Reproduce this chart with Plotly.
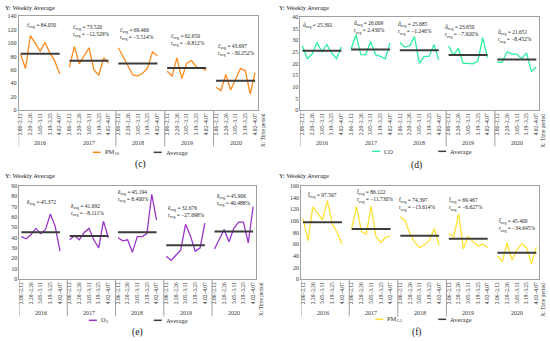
import plotly.graph_objects as go

# ---------------- data ----------------
years = ["2016", "2017", "2018", "2019", "2020"]
week_labels = ["2.06–2.12", "2.20–2.26", "3.05–3.11", "3.19–3.25", "4.02–4.07"]
weeks_per_year = 9

pm10 = [
    [83, 62, 111, 100, 88, 101, 85, 73, 54],
    [64, 95, 69, 81, 93, 60, 52, 78, 70],
    [93, 80, 65, 52, 51, 55, 63, 87, 81],
    [58, 51, 78, 47, 70, 74, 64, 63, 59],
    [34, 29, 53, 30, 46, 62, 59, 24, 56],
]
pm10_avg = [84.050, 73.520, 69.466, 62.650, 43.697]
pm10_rate = [None, -12.529, -5.514, -9.812, -30.252]

co = [
    [27.5, 22, 24, 29, 25, 28, 24.5, 22, 27],
    [26.2, 32.3, 23.8, 23.8, 29.4, 23.8, 23, 22, 28.8],
    [29, 27, 27.5, 31.5, 20, 23, 23, 28, 21.5],
    [27.5, 23.5, 26.5, 20, 20, 19.8, 21, 31, 22.5],
    [20.5, 20.5, 25, 24, 24, 22, 24.5, 16.5, 18.5],
]
co_avg = [25.392, 26.009, 25.685, 23.650, 21.651]
co_rate = [None, 2.430, -1.246, -7.920, -8.452]

o3 = [
    [41, 39, 43, 49, 44, 48, 63, 51, 27],
    [38, 42, 38, 45, 49, 38, 30, 56, 40],
    [40, 37, 38, 26, 41, 41, 44, 82, 57],
    [22, 18, 23, 28, 53, 42, 27, 30, 54],
    [29, 38, 48, 36, 49, 55, 55, 35, 70],
]
o3_avg = [45.372, 41.692, 45.194, 32.676, 45.906]
o3_rate = [None, -8.111, 8.400, -27.698, 40.488]

pm25 = [
    [104, 66, 124, 113, 102, 135, 95, 80, 60],
    [87, 125, 82, 77, 125, 73, 63, 72, 74],
    [107, 100, 78, 63, 54, 59, 66, 87, 58],
    [78, 73, 112, 52, 73, 64, 57, 60, 54],
    [40, 30, 62, 33, 50, 61, 54, 26, 55],
]
pm25_avg = [97.567, 86.122, 74.397, 69.467, 45.400]
pm25_rate = [None, -11.730, -13.614, -6.627, -34.645]

# ---------------- styling ----------------
FONT = "Liberation Serif, Times New Roman, serif"
W, H = 550, 341
AVG_COLOR = "#3c3c3c"
BORDER = "#a0a0a0"


def py(px):
    return 1 - px / H


def pxx(px):
    return px / W


panels = [
    dict(key="c", name="PM<sub>10</sub>", vals=pm10, avg=pm10_avg, rate=pm10_rate,
         color="#FF8A1E", sym="c̄", yr=[0, 140], dt=20,
         xdom=[17.7, 257], ydom=[109, 13.5],
         ann_x=[4.2, 14.5, 23.9, 34.2, 44.0], ann_y=[126.7, 118.6, 113.4, 105, 89],
         seps=[19.5, 29.5, 39.5], ylab=(2, 5), xlab=(262, 130),
         leg=(92, 153, 152), tag=(140, 164), yearY=143, sepEnd=146),
    dict(key="d", name="CO", vals=co, avg=co_avg, rate=co_rate,
         color="#2EF0A0", sym="d̄", yr=[0, 40], dt=5,
         xdom=[300, 538.7], ydom=[109, 14],
         ann_x=[3.2, 13.7, 23.1, 32.8, 43.7], ann_y=[36.2, 35.2, 35.0, 33.7, 31.6],
         seps=[29.5, 39.5], ylab=(277, 5), xlab=(543, 130),
         leg=(372, 438, 151), tag=(416.7, 165), yearY=143, sepEnd=146),
    dict(key="e", name="O<sub>3</sub>", vals=o3, avg=o3_avg, rate=o3_rate,
         color="#9A35C8", sym="ē", yr=[0, 90], dt=10,
         xdom=[18.5, 255], ydom=[281, 186.3],
         ann_x=[4.15, 13.6, 23.3, 34.0, 44.0], ann_y=[73.7, 66.6, 80.3, 64.7, 76],
         seps=[9.5, 19.5, 29.5, 39.5], ylab=(2, 176), xlab=(260, 302),
         leg=(88, 153, 323), tag=(136.7, 335), yearY=316, sepEnd=319),
    dict(key="f", name="PM<sub>2.5</sub>", vals=pm25, avg=pm25_avg, rate=pm25_rate,
         color="#FFE234", sym="f̄", yr=[0, 160], dt=20,
         xdom=[300.7, 538.7], ydom=[281, 186.3],
         ann_x=[3.9, 14.7, 23.5, 33.6, 44.1], ann_y=[143, 141.4, 128, 128.7, 92.4],
         seps=[9.5, 19.5, 29.5], ylab=(277, 176), xlab=(543, 302),
         leg=(375, 438, 322), tag=(416.7, 335), yearY=316, sepEnd=319),
]

fig = go.Figure()
annotations = []
shapes = []
layout_axes = {}

tickvals = []
ticktext = []
for yi in range(len(years)):
    for k, lab in enumerate(week_labels):
        tickvals.append(yi * 10 + 2 * k)
        ticktext.append(lab)

for i, p in enumerate(panels):
    n = "" if i == 0 else str(i + 1)
    xa, ya = "x" + n, "y" + n

    xs, ys, ax, ay = [], [], [], []
    for yi, series in enumerate(p["vals"]):
        for w, v in enumerate(series):
            xs.append(yi * 10 + w)
            ys.append(v)
        xs.append(None)
        ys.append(None)
        ax += [yi * 10, yi * 10 + weeks_per_year - 1, None]
        ay += [p["avg"][yi], p["avg"][yi], None]

    fig.add_trace(go.Scatter(x=xs, y=ys, mode="lines", name=p["name"],
                             line=dict(color=p["color"], width=1.3),
                             xaxis=xa, yaxis=ya, showlegend=False))
    fig.add_trace(go.Scatter(x=ax, y=ay, mode="lines", name="Average",
                             line=dict(color=AVG_COLOR, width=2),
                             xaxis=xa, yaxis=ya, showlegend=False))

    layout_axes["xaxis" + n] = dict(
        domain=[pxx(p["xdom"][0]), pxx(p["xdom"][1])], anchor=ya,
        range=[-0.4, 48.5], tickmode="array", tickvals=tickvals, ticktext=ticktext,
        tickangle=-90, tickfont=dict(family=FONT, size=5.5, color="#333"),
        showgrid=False, zeroline=False, showline=True, linecolor=BORDER,
        linewidth=1, mirror=True, ticks="", ticklen=0)
    layout_axes["yaxis" + n] = dict(
        domain=[py(p["ydom"][0]), py(p["ydom"][1])], anchor=xa,
        range=p["yr"], dtick=p["dt"], tick0=0,
        tickfont=dict(family=FONT, size=6, color="#333"),
        showgrid=False, zeroline=False, showline=True, linecolor=BORDER,
        linewidth=1, mirror=True, ticks="")

    # statistics annotations
    for yi in range(len(years)):
        txt = f"{p['sym']}<sub>avg</sub> = {p['avg'][yi]:.3f}"
        if p["rate"][yi] is not None:
            r = p["rate"][yi]
            rs = f"{r:.3f}%".replace("-", "−")
            txt += f"<br>r<sub>avg</sub> = {rs}"
        annotations.append(dict(x=p["ann_x"][yi], y=p["ann_y"][yi], xref=xa, yref=ya,
                                text=txt, showarrow=False, align="left",
                                xanchor="center", yanchor="middle",
                                font=dict(family=FONT, size=5.5, color="#222")))
        # year labels
        annotations.append(dict(x=yi * 10 + 4, y=py(p["yearY"]), xref=xa, yref="paper",
                                text=years[yi], showarrow=False, yanchor="middle",
                                font=dict(family=FONT, size=6, color="#333")))

    # year separators
    y_bottom = py(p["ydom"][0])
    for s in [-0.4] + p["seps"]:
        shapes.append(dict(type="line", xref=xa, yref="paper", x0=s, x1=s,
                           y0=y_bottom, y1=py(p["sepEnd"]),
                           line=dict(color=BORDER, width=1)))

    annotations.append(dict(x=pxx(p["ylab"][0]), y=py(p["ylab"][1]), xref="paper", yref="paper",
                            text="Y: Weekly Average", showarrow=False, xanchor="left",
                            yanchor="middle", font=dict(family=FONT, size=6.5, color="#222")))
    annotations.append(dict(x=pxx(p["xlab"][0]), y=py(p["xlab"][1]), xref="paper", yref="paper",
                            text="X: Time period", showarrow=False, textangle=-90,
                            xanchor="center", yanchor="middle", borderpad=0,
                            font=dict(family=FONT, size=5.5, color="#222")))
    annotations.append(dict(x=pxx(p["tag"][0]), y=py(p["tag"][1]), xref="paper", yref="paper",
                            text=f"({p['key']})", showarrow=False, xanchor="center",
                            yanchor="middle", borderpad=0,
                            font=dict(family=FONT, size=9.5, color="#111")))

    # legend (key lines + labels)
    lx1, lx2, ly = p["leg"]
    for lx, col, lab, wd in [(lx1, p["color"], p["name"], 1.5), (lx2, AVG_COLOR, "Average", 1.5)]:
        shapes.append(dict(type="line", xref="paper", yref="paper",
                           x0=pxx(lx), x1=pxx(lx + 8), y0=py(ly), y1=py(ly),
                           line=dict(color=col, width=wd)))
        annotations.append(dict(x=pxx(lx + 10), y=py(ly), xref="paper", yref="paper",
                                text=lab, showarrow=False, xanchor="left", yanchor="middle",
                                font=dict(family=FONT, size=6.5, color="#333")))

fig.update_layout(
    width=W, height=H, margin=dict(l=0, r=0, t=0, b=0),
    paper_bgcolor="white", plot_bgcolor="white",
    showlegend=False, annotations=annotations, shapes=shapes,
    **layout_axes)

fig.write_html(
    "out.html",
    config={"displayModeBar": False},
    post_script="document.documentElement.style.margin='0';"
                "document.body.style.margin='0';document.body.style.padding='0';"
                "document.body.style.overflow='hidden';",
)
